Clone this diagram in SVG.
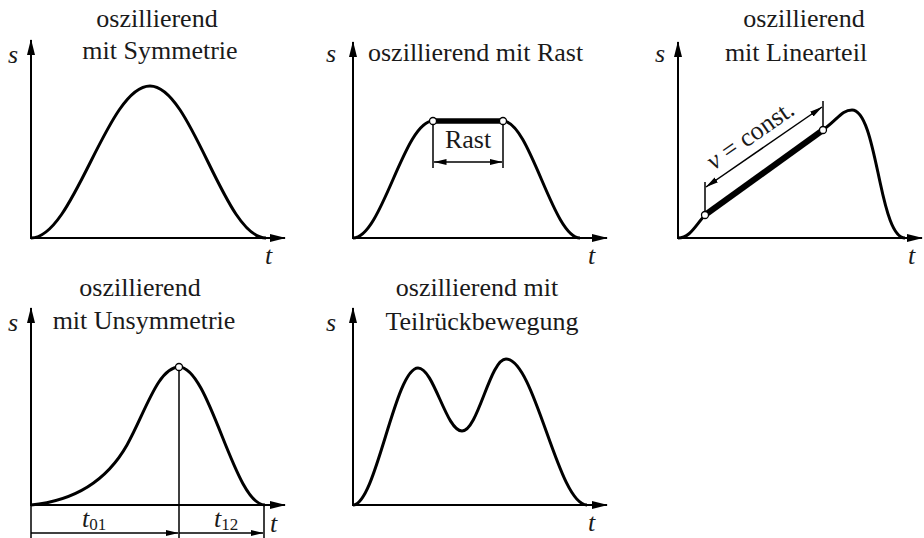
<svg xmlns="http://www.w3.org/2000/svg" width="924" height="538" viewBox="0 0 924 538">
<defs>
<style>
.ax{fill:none;stroke:#000;stroke-width:2;marker-start:url(#axh);marker-end:url(#axh)}
.cv{fill:none;stroke:#000;stroke-width:3;stroke-linejoin:round}
.thin{fill:none;stroke:#000;stroke-width:1.5}
.dim{fill:none;stroke:#000;stroke-width:1.5;marker-start:url(#dh);marker-end:url(#dh)}
.dim1{fill:none;stroke:#000;stroke-width:1.5;marker-end:url(#dh)}
.pt{fill:#fff;stroke:#000;stroke-width:1.3}
.ttl{font-family:"Liberation Serif","Times New Roman",serif;font-size:26px;fill:#1a1a1a}
.var{font-family:"Liberation Serif","Times New Roman",serif;font-size:26px;font-style:italic;fill:#1a1a1a}
.sub{font-family:"Liberation Serif","Times New Roman",serif;font-size:17px;font-style:normal}
</style>
<marker id="axh" markerWidth="16" markerHeight="8" refX="15" refY="4" orient="auto-start-reverse" markerUnits="userSpaceOnUse"><path d="M0,0 L16,4 L0,8 Z" fill="#000"/></marker>
<marker id="dh" markerWidth="13" markerHeight="6" refX="12.5" refY="3" orient="auto-start-reverse" markerUnits="userSpaceOnUse"><path d="M0,0 L13,3 L0,6 Z" fill="#000"/></marker>
</defs>
<rect width="924" height="538" fill="#fff"/>

<g id="p1">
<text class="ttl" x="157" y="27" text-anchor="middle">oszillierend</text>
<text class="ttl" x="160" y="59" text-anchor="middle">mit Symmetrie</text>
<text class="var" x="8" y="63">s</text>
<text class="var" x="265" y="264">t</text>
</g>

<g id="p2">
<text class="ttl" x="368" y="61">oszillierend mit Rast</text>
<text class="var" x="326" y="62">s</text>
<text class="var" x="588" y="264">t</text>
<text class="ttl" x="468" y="148" text-anchor="middle">Rast</text>
</g>

<g id="p3">
<text class="ttl" x="804" y="27" text-anchor="middle">oszillierend</text>
<text class="ttl" x="796" y="61" text-anchor="middle">mit Linearteil</text>
<text class="var" x="655" y="62">s</text>
<text class="var" x="908" y="264">t</text>
<text class="ttl" x="755" y="142" text-anchor="middle" transform="rotate(-35 755 142)"><tspan font-style="italic">v</tspan> = const.</text>
</g>

<g id="p4">
<text class="ttl" x="140" y="296" text-anchor="middle">oszillierend</text>
<text class="ttl" x="144" y="329" text-anchor="middle">mit Unsymmetrie</text>
<text class="var" x="8" y="331">s</text>
<text class="var" x="270" y="532">t</text>
<text class="var" x="82" y="527">t<tspan class="sub" dy="3">01</tspan></text>
<text class="var" x="214" y="527">t<tspan class="sub" dy="3">12</tspan></text>
</g>

<g id="p5">
<text class="ttl" x="477" y="296" text-anchor="middle">oszillierend mit</text>
<text class="ttl" x="482" y="330" text-anchor="middle">Teilrückbewegung</text>
<text class="var" x="326" y="331">s</text>
<text class="var" x="588" y="531">t</text>
</g>

<g id="connectors">
<!-- axes -->
<path class="ax" d="M31,40 L31,238 L285,238"/>
<path class="ax" d="M353,42 L353,238 L607,238"/>
<path class="ax" d="M678,42 L678,238 L922,238"/>
<path class="ax" d="M31,308 L31,505 L285,505"/>
<path class="ax" d="M353,308 L353,505 L607,505"/>

<!-- curves -->
<path class="cv" d="M31,238 C74,238 107,86 150,86 C192,86 224,238 266,238"/>
<path class="cv" d="M353,238 C382,238 404,121 433,121 L503,121 C530,121 553,238 580,238"/>
<path class="cv" d="M678,238 C690,238 695,226 705,215 L823,130 C838,119 842,110 852,110 C866,110 873,150 880,182 C886,210 893,238 905,238"/>
<path class="cv" d="M31,505 C72,501 106,482 127,445 C145,413 158,367 179,367 C210,367 234,505 265,505"/>
<path class="cv" d="M353,505 C376,505 395,368 418,368 C434,368 446,431 462,431 C478,431 490,359 506,359 C535,359 558,505 587,505"/>

<!-- panel 2 Rast -->
<path d="M433,121 L503,121" stroke="#000" stroke-width="5.5" fill="none"/>
<path class="thin" d="M433,121 L433,168 M503,121 L503,168"/>
<path class="dim" d="M434,162 L502,162"/>
<circle class="pt" cx="433" cy="121" r="3.5"/>
<circle class="pt" cx="503" cy="121" r="3.5"/>

<!-- panel 3 linear part -->
<path d="M705,215 L823,130" stroke="#000" stroke-width="6" fill="none"/>
<path class="thin" d="M705,215 L705,182 M823,130 L823,101"/>
<path class="dim" d="M706,187 L822,107"/>
<circle class="pt" cx="705" cy="215" r="3.5"/>
<circle class="pt" cx="823" cy="130" r="3.5"/>

<!-- panel 4 dimension -->
<path class="thin" d="M31,505 L31,538 M179,367 L179,538 M264,505 L264,538"/>
<path class="dim1" d="M31,533 L178,533"/>
<path class="dim1" d="M179,533 L263,533"/>
<circle class="pt" cx="179" cy="367" r="3.5"/>
</g>
</svg>
